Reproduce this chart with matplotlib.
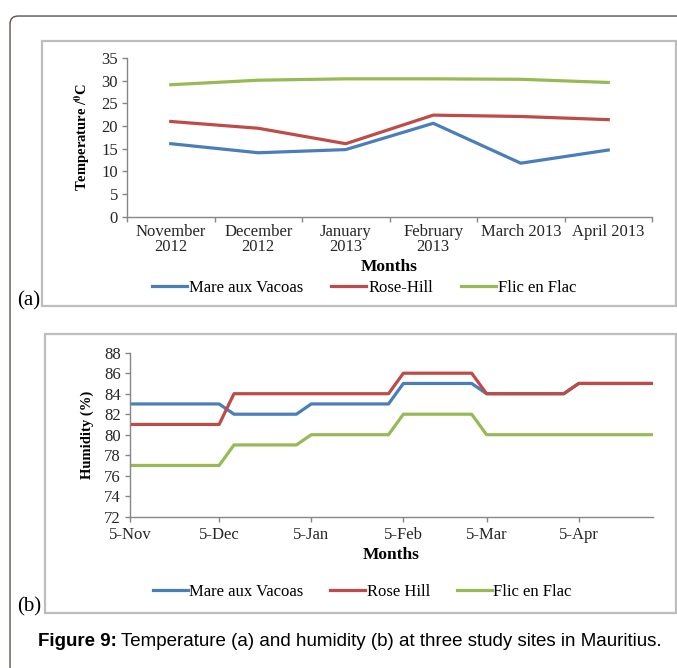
import matplotlib
matplotlib.use("Agg")
import matplotlib.pyplot as plt
import matplotlib.dates as mdates
from matplotlib.patches import FancyBboxPatch, Rectangle
from matplotlib.ticker import FixedLocator, NullFormatter
import numpy as np

# --- data -----------------------------------------------------------------
months = ["November\n2012", "December\n2012", "January\n2013", "February\n2013",
          "March 2013", "April 2013"]
temp_vacoas = [16.1, 14.1, 14.8, 20.6, 11.8, 14.7]
temp_rosehill = [21.0, 19.5, 16.1, 22.4, 22.1, 21.4]
temp_flic = [29.1, 30.1, 30.4, 30.4, 30.3, 29.6]

hum_dates = ["2012-11-05", "2012-12-05", "2012-12-10", "2012-12-31", "2013-01-05",
             "2013-01-31", "2013-02-05", "2013-02-28", "2013-03-05", "2013-03-31",
             "2013-04-05", "2013-04-30"]
hum_vacoas = [83, 83, 82, 82, 83, 83, 85, 85, 84, 84, 85, 85]
hum_rosehill = [81, 81, 84, 84, 84, 84, 86, 86, 84, 84, 85, 85]
hum_flic = [77, 77, 79, 79, 80, 80, 82, 82, 80, 80, 80, 80]

BLUE = "#4a7ebb"
RED = "#be4b48"
GREEN = "#98b954"
SPINE = "#868686"
INK = "#262626"
LW = 2.3
TICK_FS = 12
LABEL_FS = 12.5

plt.rcParams["font.family"] = ["Liberation Serif", "DejaVu Serif"]
plt.rcParams["mathtext.fontset"] = "stix"

fig = plt.figure(figsize=(6.77, 6.68), dpi=100, facecolor="white")

# frames around the figure and the two panels
fig.add_artist(FancyBboxPatch((0.0148, -0.05), 1.1, 1.026, transform=fig.transFigure,
                              boxstyle="round,pad=0,rounding_size=0.012",
                              facecolor="none", edgecolor="#5b514b", linewidth=1.0))
fig.add_artist(Rectangle((0.062, 0.542), 0.936, 0.3966, transform=fig.transFigure,
                         facecolor="none", edgecolor="#bdbdbd", linewidth=1.6))
fig.add_artist(Rectangle((0.0665, 0.0823), 0.932, 0.4177, transform=fig.transFigure,
                         facecolor="none", edgecolor="#bdbdbd", linewidth=1.6))


def style_axes(ax):
    for side in ("top", "right"):
        ax.spines[side].set_visible(False)
    for side in ("left", "bottom"):
        ax.spines[side].set_color(SPINE)
        ax.spines[side].set_linewidth(1.0)
    ax.tick_params(which="both", direction="out", color=SPINE, length=3.5,
                   width=1.0, labelsize=TICK_FS, labelcolor=INK, pad=3)


# --- (a) temperature --------------------------------------------------------
ax_a = fig.add_axes([0.1876, 0.6756, 0.7755, 0.2376])
style_axes(ax_a)
x = np.arange(len(months))
for vals, col, name in [(temp_vacoas, BLUE, "Mare aux Vacoas"),
                        (temp_rosehill, RED, "Rose-Hill"),
                        (temp_flic, GREEN, "Flic en Flac")]:
    ax_a.plot(x, vals, color=col, linewidth=LW, label=name, solid_joinstyle="round")
ax_a.set_xlim(-0.5, len(months) - 0.5)
ax_a.set_ylim(0, 35)
ax_a.set_yticks(np.arange(0, 36, 5))
ax_a.xaxis.set_major_locator(FixedLocator(np.arange(-0.5, len(months), 1.0)))
ax_a.xaxis.set_major_formatter(NullFormatter())
ax_a.set_xticks(x, minor=True)
ax_a.set_xticklabels(months, minor=True, linespacing=0.95)
ax_a.tick_params(axis="x", which="minor", length=0, pad=5)
ax_a.set_ylabel(r"Temperature /$^{\mathbf{0}}$C", fontsize=10.5, fontweight="bold")
ax_a.yaxis.set_label_coords(-0.066, 0.5)
ax_a.set_xlabel("Months", fontsize=LABEL_FS, fontweight="bold")
ax_a.xaxis.set_label_coords(0.5, -0.268)
fig.legend(*ax_a.get_legend_handles_labels(), loc="center", ncol=3, frameon=False,
           bbox_to_anchor=(0.538, 0.569), fontsize=TICK_FS, handlelength=2.1,
           handletextpad=0.1, columnspacing=1.7)
fig.text(0.025, 0.549, "(a)", fontsize=15, ha="left", va="center")

# --- (b) humidity -----------------------------------------------------------
dates = np.array(hum_dates, dtype="datetime64[D]")
ax_b = fig.add_axes([0.192, 0.2265, 0.7725, 0.2455])
style_axes(ax_b)
for vals, col, name in [(hum_vacoas, BLUE, "Mare aux Vacoas"),
                        (hum_rosehill, RED, "Rose Hill"),
                        (hum_flic, GREEN, "Flic en Flac")]:
    ax_b.plot(dates, vals, color=col, linewidth=LW, label=name, solid_joinstyle="round")
ax_b.set_xlim(np.datetime64("2012-11-05"), np.datetime64("2013-04-30"))
ax_b.set_ylim(72, 88)
ax_b.set_yticks(np.arange(72, 89, 2))
ax_b.xaxis.set_major_locator(mdates.MonthLocator(bymonthday=5))
ax_b.xaxis.set_major_formatter(
    plt.FuncFormatter(lambda v, _: "{}-{}".format(mdates.num2date(v).day,
                                                  mdates.num2date(v).strftime("%b"))))
ax_b.tick_params(axis="x", pad=4)
ax_b.set_ylabel("Humidity (%)", fontsize=10.5, fontweight="bold")
ax_b.yaxis.set_label_coords(-0.068, 0.5)
ax_b.set_xlabel("Months", fontsize=LABEL_FS, fontweight="bold")
ax_b.xaxis.set_label_coords(0.5, -0.182)
fig.legend(*ax_b.get_legend_handles_labels(), loc="center", ncol=3, frameon=False,
           bbox_to_anchor=(0.535, 0.1138), fontsize=TICK_FS, handlelength=2.1,
           handletextpad=0.1, columnspacing=1.6)
fig.text(0.025, 0.092, "(b)", fontsize=15, ha="left", va="center")

# --- caption ------------------------------------------------------------------
cap = fig.text(0.056, 0.0404, "Figure 9:", fontsize=13.5, fontweight="bold",
               family="Liberation Sans", ha="left", va="center")
ax_b.annotate("Temperature (a) and humidity (b) at three study sites in Mauritius.",
              xy=(1, 0), xycoords=cap, xytext=(3, 0), textcoords="offset points",
              ha="left", va="bottom", fontsize=13.5, family="Liberation Sans",
              annotation_clip=False)

fig.savefig("out.png", dpi=100, facecolor="white")
